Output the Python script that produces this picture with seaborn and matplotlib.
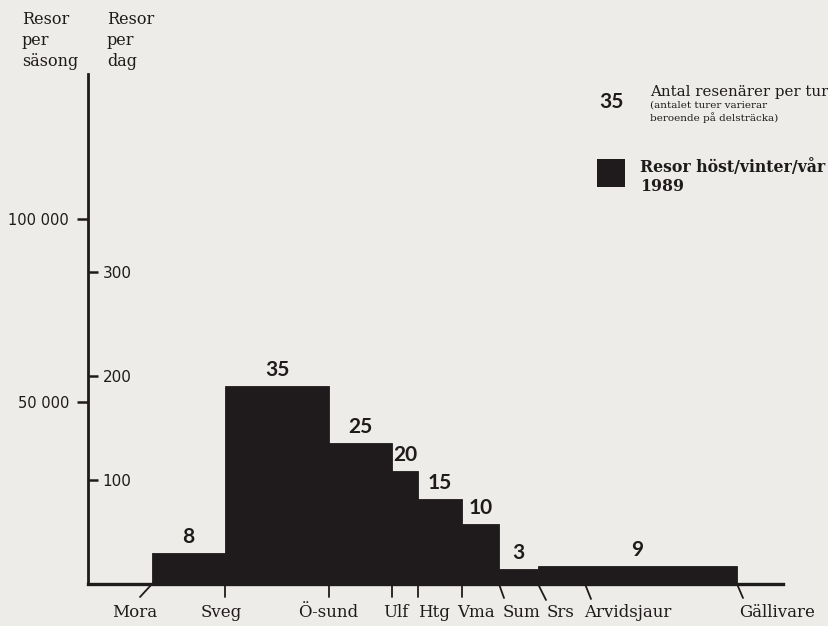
import matplotlib
matplotlib.use('Agg')
import matplotlib.pyplot as plt
from matplotlib.patches import Rectangle
import seaborn as sns

# Inlandsbanan stations, schematic position along the line
stations = ['Mora', 'Sveg', 'Ö-sund', 'Ulf', 'Htg', 'Vma', 'Sum', 'Srs', 'Arvidsjaur', 'Gällivare']
station_pos = [64, 137, 241, 304, 330, 374, 411, 450, 497, 649]

# segments where the travel level changes
segment_stops = ['Mora', 'Sveg', 'Ö-sund', 'Ulf', 'Htg', 'Vma', 'Sum', 'Srs', 'Gällivare']
trips_per_day = [30, 190, 136, 109, 82, 58, 14, 17]
passengers_per_trip = [8, 35, 25, 20, 15, 10, 3, 9]

day_ticks = [100, 200, 300]
season_ticks = [50000, 100000]
season_labels = ['50 000', '100 000']
days_per_season = 285

paper = '#edece8'
ink = '#1f1b1c'
W, H = 829, 626

sns.set_style('white')
plt.rcParams['font.family'] = ['DejaVu Serif']
plt.rcParams['text.color'] = ink


def fpos(x, y):
    # pixel position -> figure fraction
    return x / W, 1 - y / H


fig = plt.figure(figsize=(W / 100, H / 100), dpi=100, facecolor=paper)
ax = fig.add_axes([88 / W, 1 - 584 / H, (783 - 88) / W, (584 - 74) / H])
ax.set_facecolor('none')

pos = dict(zip(stations, station_pos))
edges = [pos[s] for s in segment_stops]
mids = [(a + b) / 2 for a, b in zip(edges[:-1], edges[1:])]

sns.histplot(x=mids, weights=trips_per_day, bins=edges, ax=ax,
             color=ink, alpha=1, edgecolor=ink, linewidth=0.6)
ax.set_xlim(0, 695)
ax.set_ylim(0, 510 / 1.04)
ax.set_xlabel('')
ax.set_ylabel('')
ax.set_xticks([])

# per-day scale: ticks to the right of the vertical axis line
for side in ['top', 'left']:
    ax.spines[side].set_visible(False)
ax.spines['right'].set_position(('axes', 0))
ax.spines['right'].set_linewidth(2.0)
ax.spines['bottom'].set_linewidth(2.4)
ax.spines[['right', 'bottom']].set_color(ink)
ax.yaxis.tick_right()
ax.set_yticks(day_ticks)
ax.tick_params(axis='y', direction='out', length=7, width=1.8, pad=3.5,
               labelsize=11, colors=ink, labelfontfamily='DejaVu Sans')

# per-season scale on the left side
sec = ax.secondary_yaxis('left', functions=(lambda d: d * days_per_season,
                                            lambda s: s / days_per_season))
sec.set_yticks(season_ticks)
sec.set_yticklabels(season_labels)
sec.spines['left'].set_visible(False)
sec.tick_params(direction='out', length=8, width=1.8, pad=5.5, labelsize=10.5,
                colors=ink, labelfontfamily='DejaVu Sans')

# passengers per trip above each segment
for m, v, n in zip(mids, trips_per_day, passengers_per_trip):
    ax.annotate(str(n), xy=(m, v), xytext=(0, 6), textcoords='offset pixels',
                ha='center', va='bottom', fontsize=15, fontfamily='Lato',
                fontweight='bold', color=ink)

# station names with small leader lines
label_dx = {'Mora': -17, 'Sveg': -4, 'Ö-sund': -1, 'Ulf': 4, 'Htg': 16, 'Vma': 14,
            'Sum': 23, 'Srs': 23, 'Arvidsjaur': 43, 'Gällivare': 40}
leader = {'Mora': (-12, 13), 'Sveg': (0, 13), 'Ö-sund': (0, 13), 'Ulf': (0, 13),
          'Htg': (0, 13), 'Vma': (0, 13), 'Sum': (5, 14), 'Srs': (8, 16),
          'Arvidsjaur': (6, 15), 'Gällivare': (6, 14)}
for s in stations:
    ldx, llen = leader[s]
    ax.annotate('', xy=(pos[s], 0), xytext=(ldx, -llen), textcoords='offset pixels',
                arrowprops=dict(arrowstyle='-', color=ink, lw=1.3, shrinkA=0, shrinkB=0),
                annotation_clip=False)
    ax.annotate(s, xy=(pos[s], 0), xytext=(label_dx[s], -33), textcoords='offset pixels',
                ha='center', va='baseline', fontsize=12, annotation_clip=False)

# axis headers
fig.text(*fpos(22, 11), 'Resor\nper\nsäsong', ha='left', va='top', fontsize=11.5, linespacing=1.3)
fig.text(*fpos(107, 11), 'Resor\nper\ndag', ha='left', va='top', fontsize=11.5, linespacing=1.3)

# legend
fig.text(*fpos(599, 108), '35', ha='left', va='baseline', fontsize=15,
         fontfamily='Lato', fontweight='bold')
fig.text(*fpos(650, 96), 'Antal resenärer per tur', ha='left', va='baseline', fontsize=10.8)
fig.text(*fpos(650, 108), '(antalet turer varierar', ha='left', va='baseline', fontsize=7.5)
fig.text(*fpos(650, 121), 'beroende på delsträcka)', ha='left', va='baseline', fontsize=7.5)
x0, y0 = fpos(597, 187)
fig.patches.append(Rectangle((x0, y0), 28 / W, 28 / H, transform=fig.transFigure,
                             facecolor=ink, edgecolor='none'))
fig.text(*fpos(640, 172), 'Resor höst/vinter/vår', ha='left', va='baseline',
         fontsize=11.3, fontweight='bold')
fig.text(*fpos(640, 191), '1989', ha='left', va='baseline', fontsize=11.3, fontweight='bold')

fig.savefig('out.png', dpi=100, facecolor=paper)
